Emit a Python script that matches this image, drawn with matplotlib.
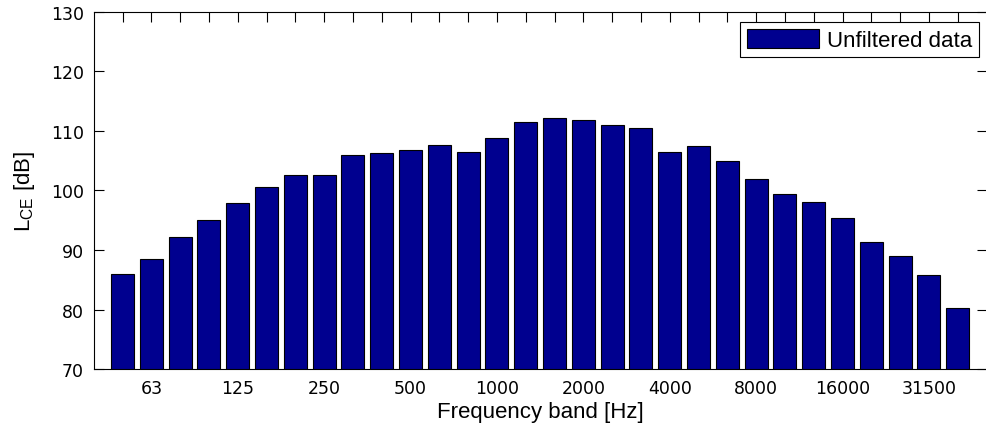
#%% libs
import matplotlib.pyplot as plt

#%% data: one-third octave bands and C-weighted exposure levels
bands = ['50', '63', '80', '100', '125', '160', '200', '250', '315', '400',
         '500', '630', '800', '1000', '1250', '1600', '2000', '2500', '3150', '4000',
         '5000', '6300', '8000', '10000', '12500', '16000', '20000', '25000', '31500', '40000']
levels = [85.9, 88.5, 92.2, 95.1, 97.9, 100.6, 102.6, 102.6, 106.0, 106.3,
          106.8, 107.7, 106.5, 108.8, 111.5, 112.1, 111.8, 110.9, 110.5, 106.5,
          107.5, 105.0, 101.9, 99.4, 98.0, 95.3, 91.3, 89.0, 85.8, 80.2]
labelled = ['63', '125', '250', '500', '1000', '2000', '4000', '8000', '16000', '31500']

#%% plot
plt.rcParams['font.family'] = ['Liberation Sans', 'DejaVu Sans']
fig = plt.figure(figsize=(9.87, 4.39), dpi=100)
ax = fig.add_axes([0.095, 0.157, 0.9045, 0.814])

x = range(1, len(bands) + 1)
ax.bar(x, levels, width=0.8, color='#00008F', edgecolor='black',
       linewidth=0.8, label='Unfiltered data', zorder=2)

ax.set_xlim(0, 31)
ax.set_ylim(70, 130)
ax.set_xticks(list(x))
ax.set_xticklabels([b if b in labelled else '' for b in bands])
ax.set_yticks(range(70, 131, 10))
ax.set_axisbelow(True)
ax.tick_params(axis='both', direction='in', length=7, width=0.8,
               top=True, right=True, colors='black')
ax.tick_params(axis='x', pad=7)
ax.tick_params(axis='y', pad=7)
for lbl in ax.get_xticklabels() + ax.get_yticklabels():
    lbl.set_family('DejaVu Sans')
    lbl.set_fontsize(12.5)
for sp in ax.spines.values():
    sp.set_linewidth(0.8)
    sp.set_zorder(3)

ax.set_xlabel('Frequency band [Hz]', fontsize=16, labelpad=3)
ax.set_ylabel('L$_{\\mathregular{CE}}$ [dB]', fontsize=16, labelpad=10)

leg = ax.legend(loc='upper right', bbox_to_anchor=(0.9916, 0.9715),
                fontsize=16, handlelength=3.25, handleheight=0.95,
                handletextpad=0.36, borderpad=0.3, borderaxespad=0,
                fancybox=False, framealpha=1, edgecolor='black')
leg.get_frame().set_linewidth(0.8)

plt.savefig('out.png', dpi=100)
